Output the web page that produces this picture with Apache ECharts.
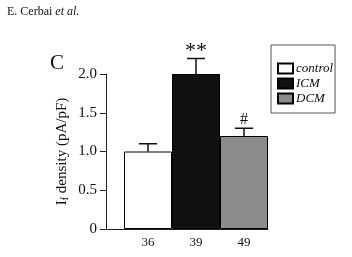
<!DOCTYPE html>
<html><head><meta charset="utf-8">
<script src="https://cdn.jsdelivr.net/npm/echarts@6/dist/echarts.min.js"></script>
<style>html,body{margin:0;padding:0;background:#fff}#c{width:352px;height:257px}</style>
</head><body><div id="c"></div>
<script>
const categories = ['36', '39', '49'];
const seriesNames = ['control', 'ICM', 'DCM'];
const values = [1.0, 2.0, 1.2];
const errors = [0.1, 0.2, 0.1];
const marks = ['', '**', '#'];
const colors = ['#ffffff', '#111111', '#8c8c8c'];

const serif = 'Liberation Serif';
const chart = echarts.init(document.getElementById('c'));
const barSeries = seriesNames.map((n, i) => ({
  name: n, type: 'bar', barWidth: 48, barGap: '-100%',
  data: [[i, values[i]]],
  itemStyle: { color: colors[i], borderColor: '#000', borderWidth: 1 }
}));
chart.setOption({
  animation: false,
  grid: { left: 106, right: 84, top: 74, bottom: 28 },
  title: [
    { text: '{a|E. Cerbai }{b|et al.}', left: 7, top: 6, padding: 0,
      textStyle: { rich: { a: { fontFamily: serif, fontSize: 12, fontWeight: 'normal', color: '#111' }, b: { fontFamily: serif, fontSize: 12, fontWeight: 'normal', fontStyle: 'italic', color: '#111' } } } },
    { text: 'C', left: 50, top: 53, padding: 0, textStyle: { fontFamily: serif, fontSize: 21, fontWeight: 'normal', color: '#111' } }
  ],
  legend: {
    orient: 'vertical', left: 271, top: 45,
    data: seriesNames,
    borderColor: '#555', borderWidth: 1, padding: [17, 2, 8, 6], itemGap: 2,
    itemWidth: 15, itemHeight: 10, icon: 'rect',
    textStyle: { fontFamily: serif, fontSize: 13, fontStyle: 'italic', color: '#111', padding: [0, 0, 0, -2] }
  },
  xAxis: {
    type: 'value', min: -0.875, max: 2.5,
    splitLine: { show: false },
    axisLine: { show: true, onZero: false, lineStyle: { color: '#222', width: 1 } },
    axisTick: { show: false },
    axisLabel: { customValues: [0, 1, 2], formatter: v => categories[Math.round(v)] ?? '',
      fontFamily: serif, fontSize: 13, color: '#111', margin: 7 }
  },
  yAxis: {
    type: 'value', min: 0, max: 2.0, interval: 0.5,
    splitLine: { show: false },
    axisLine: { show: true, onZero: false, lineStyle: { color: '#222', width: 1 } },
    axisTick: { show: true, length: 6, lineStyle: { color: '#222' } },
    axisLabel: { formatter: v => (v === 0 ? '0' : v.toFixed(1)), fontFamily: serif, fontSize: 15, color: '#111', margin: 9 },
    name: '{i|I}{s|f}{t| density (pA/pF)}', nameLocation: 'middle', nameGap: 36, nameRotate: 90,
    nameTextStyle: { rich: {
      i: { fontFamily: serif, fontSize: 15, color: '#111' },
      s: { fontFamily: serif, fontSize: 10, color: '#111', verticalAlign: 'bottom', padding: [6, 0, 0, 0] },
      t: { fontFamily: serif, fontSize: 15, color: '#111' } } }
  },
  series: barSeries.concat([{
    type: 'custom', clip: false, silent: true,
    data: values.map((v, i) => [i, v, errors[i]]),
    renderItem: (params, api) => {
      const i = api.value(0), v = api.value(1), e = api.value(2);
      const p0 = api.coord([i, v]), p1 = api.coord([i, v + e]);
      const half = 9;
      const children = [
        { type: 'line', shape: { x1: p0[0], y1: p0[1], x2: p1[0], y2: p1[1] }, style: { stroke: '#111', lineWidth: 1.5 } },
        { type: 'line', shape: { x1: p1[0] - half, y1: p1[1], x2: p1[0] + half, y2: p1[1] }, style: { stroke: '#111', lineWidth: 1.5 } }
      ];
      const m = marks[params.dataIndex];
      if (m) children.push({ type: 'text', style: { text: m, x: p1[0], y: p1[1] + (m === '**' ? 4 : 0), align: 'center', verticalAlign: 'bottom',
        font: (m === '**' ? '22px ' : '16px ') + '"Liberation Serif"', fill: '#111' } });
      return { type: 'group', children };
    }
  }])
});
</script></body></html>
